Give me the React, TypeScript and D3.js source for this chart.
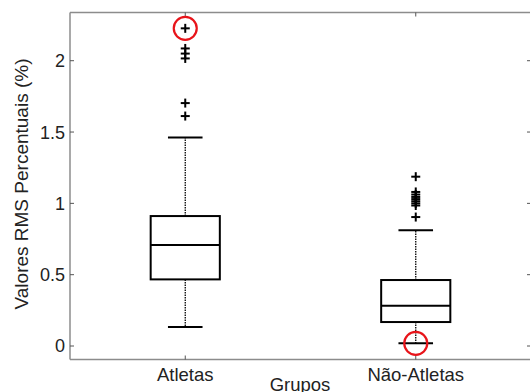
import React from "react";
import * as d3 from "d3";

const categories = ["Atletas", "Não-Atletas"];
const q1 = [0.467, 0.168];
const median = [0.708, 0.282];
const q3 = [0.911, 0.4625];
const whiskerLow = [0.133, 0.019];
const whiskerHigh = [1.462, 0.811];
const outliersAtletas = [2.227, 2.086, 2.05, 2.016, 1.703, 1.612];
const outliersNaoAtletas = [1.187, 1.08, 1.062, 1.045, 1.03, 1.015, 1.0, 0.985, 0.904];
const outliers = [outliersAtletas, outliersNaoAtletas];
// highlighted (circled) values
const circledCategory = ["Atletas", "Não-Atletas"];
const circledValue = [2.227, 0.019];
const yTicks = [0, 0.5, 1, 1.5, 2];
const yDomain = [-0.0946, 2.338];
const yLabel = "Valores RMS Percentuais (%)";
const xLabel = "Grupos";

const W = 530;
const H = 392;
const M = { left: 70, top: 12.5, right: 531, bottom: 359.5 };
const FONT = "'Liberation Sans', Arial, sans-serif";

export default function App() {
  const x = d3.scalePoint<string>().domain(categories).range([M.left, M.right]).padding(0.5);
  const y = d3.scaleLinear().domain(yDomain).range([M.bottom, M.top]);
  const step = x.step();
  const boxW = step * 0.3;
  const capW = boxW / 2;
  const axisColor = "#8c8c8c";
  const tickColor = "#555";

  return (
    <svg width={W} height={H} style={{ position: "absolute", left: 0, top: 0, background: "#fff" }}>
      <rect x={0} y={0} width={W} height={H} fill="#fff" />
      {/* frame */}
      <line x1={M.left} x2={M.right} y1={M.top} y2={M.top} stroke={axisColor} strokeWidth={1.5} />
      <line x1={M.left} x2={M.right} y1={M.bottom} y2={M.bottom} stroke={axisColor} strokeWidth={1.5} />
      <line x1={M.left} x2={M.left} y1={M.top} y2={M.bottom} stroke={axisColor} strokeWidth={1.5} />
      <line x1={M.right} x2={M.right} y1={M.top} y2={M.bottom} stroke={axisColor} strokeWidth={1.5} />
      {/* y ticks */}
      {yTicks.map((t) => (
        <g key={t}>
          <line x1={M.left} x2={M.left + 4} y1={y(t)} y2={y(t)} stroke={tickColor} strokeWidth={1} />
          <line x1={M.right - 4} x2={M.right} y1={y(t)} y2={y(t)} stroke={tickColor} strokeWidth={1} />
          <text x={M.left - 5} y={y(t)} dy="0.36em" textAnchor="end" fontFamily={FONT} fontSize={18} fill="#222">
            {String(t)}
          </text>
        </g>
      ))}
      {/* x ticks */}
      {categories.map((c) => (
        <g key={c}>
          <line x1={x(c)} x2={x(c)} y1={M.top} y2={M.top + 4} stroke={tickColor} strokeWidth={1} />
          <line x1={x(c)} x2={x(c)} y1={M.bottom} y2={M.bottom - 4} stroke={tickColor} strokeWidth={1} />
          <text x={x(c)} y={381} textAnchor="middle" fontFamily={FONT} fontSize={18.5} fill="#222">
            {c}
          </text>
        </g>
      ))}
      {/* boxes */}
      {categories.map((c, i) => {
        const cx = x(c) as number;
        return (
          <g key={"box" + c}>
            <line x1={cx} x2={cx} y1={y(q3[i])} y2={y(whiskerHigh[i])} stroke="#000" strokeWidth={1.3} strokeDasharray="1.5,1" />
            <line x1={cx} x2={cx} y1={y(q1[i])} y2={y(whiskerLow[i])} stroke="#000" strokeWidth={1.3} strokeDasharray="1.5,1" />
            <line x1={cx - capW / 2} x2={cx + capW / 2} y1={y(whiskerHigh[i])} y2={y(whiskerHigh[i])} stroke="#000" strokeWidth={2} />
            <line x1={cx - capW / 2} x2={cx + capW / 2} y1={y(whiskerLow[i])} y2={y(whiskerLow[i])} stroke="#000" strokeWidth={2} />
            <rect x={cx - boxW / 2} y={y(q3[i])} width={boxW} height={y(q1[i]) - y(q3[i])} fill="none" stroke="#000" strokeWidth={2} />
            <line x1={cx - boxW / 2} x2={cx + boxW / 2} y1={y(median[i])} y2={y(median[i])} stroke="#000" strokeWidth={2} />
            {outliers[i].map((v, j) => (
              <g key={j} stroke="#000" strokeWidth={2}>
                <line x1={cx - 4.5} x2={cx + 4.5} y1={y(v)} y2={y(v)} />
                <line x1={cx} x2={cx} y1={y(v) - 4.5} y2={y(v) + 4.5} />
              </g>
            ))}
          </g>
        );
      })}
      {/* circles */}
      {circledCategory.map((c, i) => (
        <circle key={"c" + i} cx={x(c)} cy={y(circledValue[i])} r={11.5} fill="none" stroke="#e8141a" strokeWidth={2.2} />
      ))}
      {/* axis labels */}
      <text x={300} y={391} textAnchor="middle" fontFamily={FONT} fontSize={18.5} fill="#222">
        {xLabel}
      </text>
      <text
        transform={`translate(28,184) rotate(-90)`}
        textAnchor="middle"
        fontFamily={FONT}
        fontSize={19}
        fill="#222"
      >
        {yLabel}
      </text>
    </svg>
  );
}
